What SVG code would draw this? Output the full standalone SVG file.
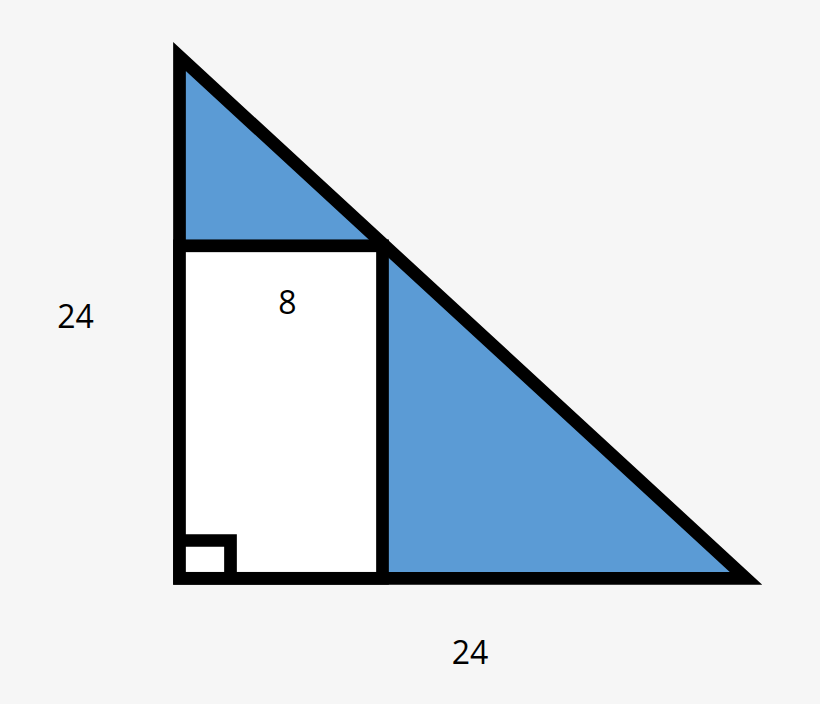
<svg xmlns="http://www.w3.org/2000/svg" width="820" height="704" viewBox="0 0 820 704">
<style>
.ln{stroke:#000;stroke-width:12.7;stroke-linejoin:miter;stroke-miterlimit:10}
.lbl{font-family:"Open Sans","Noto Sans","Liberation Sans",sans-serif;font-size:32px;fill:#000;text-anchor:middle}
</style>
<rect width="820" height="704" fill="#f6f6f6"/>
<g id="triangle">
<polygon class="ln" points="179.5,56.6 179.5,578.3 746,578.3" fill="#5b9bd5"/>
</g>
<g id="rectangle">
<rect class="ln" x="179.5" y="245.8" width="203" height="332.5" fill="#ffffff"/>
</g>
<g id="right-angle">
<polyline class="ln" points="179.5,540.5 230.5,540.5 230.5,578.3" fill="none"/>
</g>
<g id="labels">
<text class="lbl" x="75.5" y="328">24</text>
<text class="lbl" x="287.5" y="314">8</text>
<text class="lbl" x="470" y="664">24</text>
</g>
</svg>
